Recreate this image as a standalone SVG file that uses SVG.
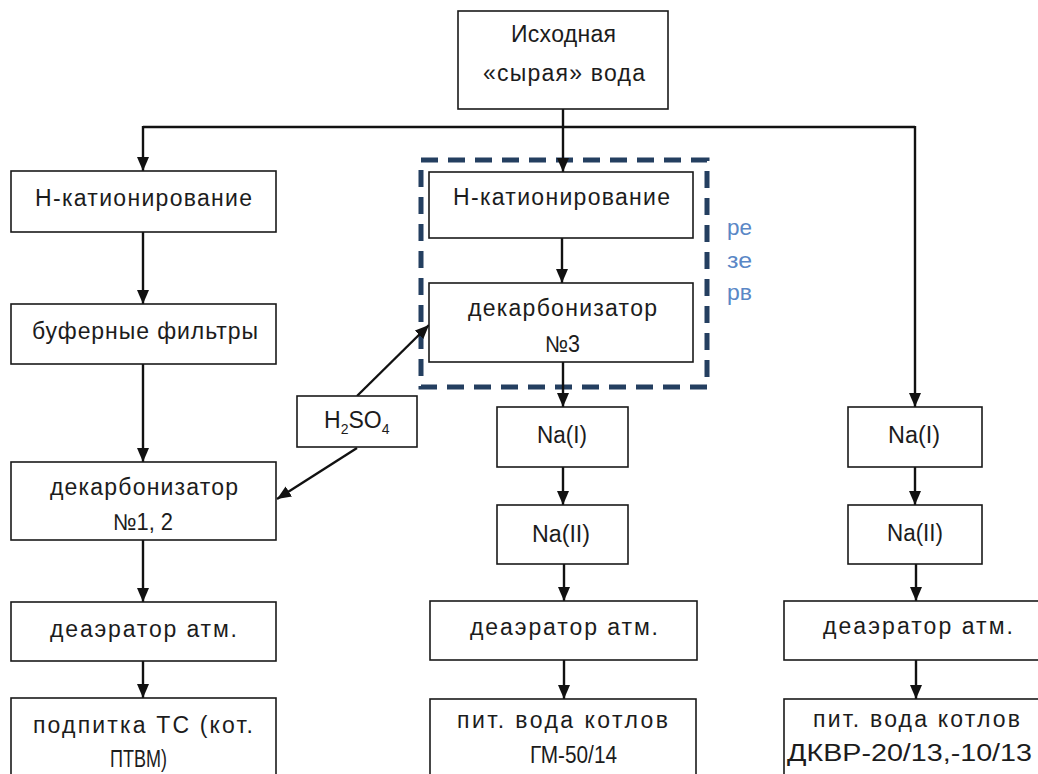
<svg xmlns="http://www.w3.org/2000/svg" width="1038" height="774" viewBox="0 0 1038 774">
<defs>
<style>
.box{fill:#fff;stroke:#1a1a1a;stroke-width:1.6}
.t{font-family:"Liberation Sans",Arial,sans-serif;font-size:23px;fill:#1c1c1c;text-anchor:middle}
.c{fill:none;stroke:#111;stroke-width:2.4}
.res{fill:none;stroke:#243f60;stroke-width:5;stroke-dasharray:17 10}
.blue{font-family:"Liberation Sans",Arial,sans-serif;font-size:22px;fill:#5a87c6}
</style>
<marker id="ah" markerUnits="userSpaceOnUse" markerWidth="14" markerHeight="12" viewBox="0 0 14 12" refX="14" refY="6" orient="auto">
<path d="M0,0 L14,6 L0,12 z" fill="#111"/>
</marker>
</defs>
<rect width="1038" height="774" fill="#fff"/>

<g id="reserve">
<rect class="res" x="421" y="160" width="286" height="227"/>
<text class="blue" x="727" y="235" textLength="25" lengthAdjust="spacingAndGlyphs">ре</text>
<text class="blue" x="727" y="268" textLength="25" lengthAdjust="spacingAndGlyphs">зе</text>
<text class="blue" x="727" y="300" textLength="25" lengthAdjust="spacingAndGlyphs">рв</text>
</g>

<g id="connectors">
<path class="c" d="M563,109 V172" marker-end="url(#ah)"/>
<path class="c" d="M143,127 H915"/>
<path class="c" d="M143,126 V171" marker-end="url(#ah)"/>
<path class="c" d="M915,126 V407" marker-end="url(#ah)"/>
<path class="c" d="M143,232 V304" marker-end="url(#ah)"/>
<path class="c" d="M143,364 V462" marker-end="url(#ah)"/>
<path class="c" d="M143,540 V602" marker-end="url(#ah)"/>
<path class="c" d="M143,661 V698" marker-end="url(#ah)"/>
<path class="c" d="M562,238 V283" marker-end="url(#ah)"/>
<path class="c" d="M563,362 V407" marker-end="url(#ah)"/>
<path class="c" d="M563,467 V505" marker-end="url(#ah)"/>
<path class="c" d="M564,564 V601" marker-end="url(#ah)"/>
<path class="c" d="M564,660 V699" marker-end="url(#ah)"/>
<path class="c" d="M915,467 V505" marker-end="url(#ah)"/>
<path class="c" d="M916,564 V601" marker-end="url(#ah)"/>
<path class="c" d="M916,660 V699" marker-end="url(#ah)"/>
<path class="c" d="M357,396 L429,325" marker-end="url(#ah)"/>
<path class="c" d="M357,448 L277,499" marker-end="url(#ah)"/>
</g>

<g id="source">
<rect class="box" x="458" y="11" width="210" height="98"/>
<text class="t" x="563.5" y="42" textLength="105" lengthAdjust="spacing">Исходная</text>
<text class="t" x="564" y="81" textLength="162" lengthAdjust="spacing">«сырая» вода</text>
</g>

<g id="h-cat-left">
<rect class="box" x="11" y="171" width="265" height="61"/>
<text class="t" x="143.5" y="206" textLength="217" lengthAdjust="spacing">Н-катионирование</text>
</g>
<g id="buffer-filters">
<rect class="box" x="11" y="304" width="265" height="60"/>
<text class="t" x="145" y="339" textLength="226" lengthAdjust="spacing">буферные фильтры</text>
</g>
<g id="decarb-12">
<rect class="box" x="11" y="462" width="265" height="78"/>
<text class="t" x="144" y="495" textLength="188" lengthAdjust="spacing">декарбонизатор</text>
<text class="t" x="143" y="530" textLength="60" lengthAdjust="spacingAndGlyphs">№1, 2</text>
</g>
<g id="deaerator-left">
<rect class="box" x="11" y="602" width="265" height="59"/>
<text class="t" x="143.5" y="637" textLength="187" lengthAdjust="spacing">деаэратор атм.</text>
</g>
<g id="makeup-left">
<rect class="box" x="11" y="698" width="265" height="90"/>
<text class="t" x="143" y="733" textLength="220" lengthAdjust="spacing">подпитка ТС (кот.</text>
<text class="t" x="138.5" y="767" textLength="57" lengthAdjust="spacingAndGlyphs">ПТВМ)</text>
</g>

<g id="h2so4">
<rect class="box" x="297" y="396" width="120" height="51"/>
<text class="t" x="324" y="428" style="text-anchor:start">H<tspan font-size="14" dy="6">2</tspan><tspan dy="-6">SO</tspan><tspan font-size="14" dy="6">4</tspan></text>
</g>

<g id="h-cat-mid">
<rect class="box" x="429" y="172" width="264" height="66"/>
<text class="t" x="561.5" y="205" textLength="217" lengthAdjust="spacing">Н-катионирование</text>
</g>
<g id="decarb-3">
<rect class="box" x="429" y="283" width="264" height="79"/>
<text class="t" x="562.5" y="316" textLength="189" lengthAdjust="spacing">декарбонизатор</text>
<text class="t" x="562.5" y="352" textLength="35" lengthAdjust="spacingAndGlyphs">№3</text>
</g>
<g id="na1-mid">
<rect class="box" x="497" y="407" width="131" height="60"/>
<text class="t" x="562" y="443" textLength="50" lengthAdjust="spacingAndGlyphs">Na(I)</text>
</g>
<g id="na2-mid">
<rect class="box" x="497" y="505" width="131" height="59"/>
<text class="t" x="561" y="542" textLength="58" lengthAdjust="spacingAndGlyphs">Na(II)</text>
</g>
<g id="deaerator-mid">
<rect class="box" x="430" y="601" width="267" height="59"/>
<text class="t" x="564" y="635" textLength="188" lengthAdjust="spacing">деаэратор атм.</text>
</g>
<g id="feed-mid">
<rect class="box" x="430" y="699" width="266" height="90"/>
<text class="t" x="562.5" y="728" textLength="211" lengthAdjust="spacing">пит. вода котлов</text>
<text class="t" x="573.5" y="763" textLength="87" lengthAdjust="spacingAndGlyphs">ГМ-50/14</text>
</g>

<g id="na1-right">
<rect class="box" x="848" y="407" width="134" height="60"/>
<text class="t" x="914" y="443" textLength="52" lengthAdjust="spacingAndGlyphs">Na(I)</text>
</g>
<g id="na2-right">
<rect class="box" x="848" y="505" width="134" height="59"/>
<text class="t" x="915" y="541" textLength="56" lengthAdjust="spacingAndGlyphs">Na(II)</text>
</g>
<g id="deaerator-right">
<rect class="box" x="784" y="601" width="270" height="59"/>
<text class="t" x="918" y="634" textLength="190" lengthAdjust="spacing">деаэратор атм.</text>
</g>
<g id="feed-right">
<rect class="box" x="784" y="699" width="270" height="90"/>
<text class="t" x="916.5" y="727" textLength="207" lengthAdjust="spacing">пит. вода котлов</text>
<text class="t" x="909.5" y="761" textLength="245" lengthAdjust="spacingAndGlyphs">ДКВР-20/13,-10/13</text>
</g>
</svg>
